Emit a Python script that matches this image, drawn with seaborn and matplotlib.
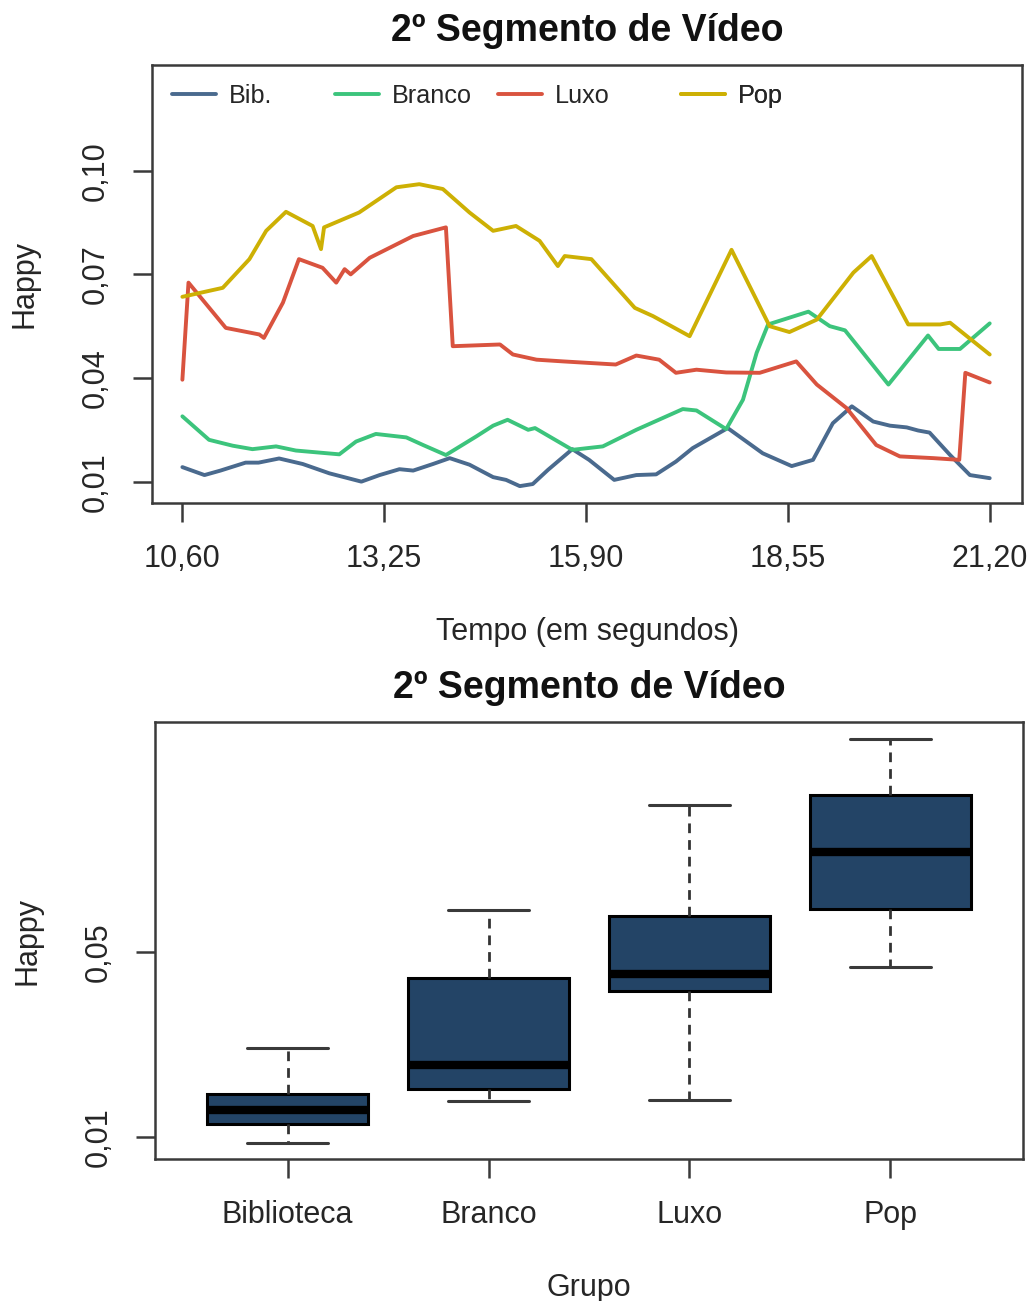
import numpy as np
import pandas as pd
import matplotlib
matplotlib.use("Agg")
import matplotlib.pyplot as plt
import seaborn as sns

# ---- time series: Happy score per group along the 2nd video segment ----
t_bib = [10.60, 10.89, 11.10, 11.43, 11.60, 11.87, 12.18, 12.53, 12.95, 13.19, 13.45,
         13.63, 13.89, 14.11, 14.37, 14.68, 14.85, 15.03, 15.20, 15.40, 15.72, 15.94,
         16.27, 16.56, 16.82, 17.08, 17.30, 17.76, 18.22, 18.60, 18.88, 19.14, 19.39,
         19.67, 19.89, 20.11, 20.26, 20.41, 20.68, 20.94, 21.20]
v_bib = [0.0142, 0.0119, 0.0132, 0.0155, 0.0155, 0.0167, 0.0151, 0.0124, 0.0100, 0.0119, 0.0136,
         0.0132, 0.0151, 0.0168, 0.0149, 0.0113, 0.0105, 0.0087, 0.0093, 0.0134, 0.0194, 0.0163,
         0.0105, 0.0119, 0.0121, 0.0158, 0.0197, 0.0255, 0.0182, 0.0145, 0.0163, 0.0269, 0.0318,
         0.0274, 0.0262, 0.0257, 0.0248, 0.0242, 0.0177, 0.0119, 0.0110]

t_branco = [10.60, 10.95, 11.26, 11.52, 11.83, 12.09, 12.66, 12.88, 13.14, 13.54, 13.76,
            14.06, 14.46, 14.68, 14.87, 15.14, 15.23, 15.72, 16.12, 16.56, 17.17, 17.35,
            17.74, 17.96, 18.14, 18.29, 18.82, 19.10, 19.30, 19.87, 20.24, 20.39, 20.53,
            20.81, 21.20]
v_branco = [0.0289, 0.0221, 0.0204, 0.0194, 0.0202, 0.0190, 0.0179, 0.0216, 0.0238, 0.0228, 0.0206,
            0.0177, 0.0231, 0.0262, 0.0279, 0.0250, 0.0255, 0.0192, 0.0202, 0.0250, 0.0310, 0.0306,
            0.0252, 0.0337, 0.0473, 0.0555, 0.0592, 0.0550, 0.0538, 0.0381, 0.0482, 0.0523, 0.0484,
            0.0484, 0.0558]

t_luxo = [10.60, 10.68, 11.17, 11.61, 11.67, 11.92, 12.13, 12.44, 12.62, 12.73, 12.81,
          13.06, 13.63, 14.06, 14.15, 14.77, 14.94, 15.25, 15.60, 16.29, 16.56, 16.86,
          17.08, 17.35, 17.74, 18.18, 18.66, 18.93, 19.32, 19.71, 20.02, 20.46, 20.80,
          20.88, 21.20]
v_luxo = [0.0395, 0.0676, 0.0545, 0.0526, 0.0516, 0.0618, 0.0744, 0.0719, 0.0676, 0.0715, 0.0700,
          0.0748, 0.0811, 0.0836, 0.0492, 0.0497, 0.0468, 0.0453, 0.0448, 0.0439, 0.0465, 0.0453,
          0.0415, 0.0424, 0.0416, 0.0415, 0.0448, 0.0381, 0.0313, 0.0206, 0.0173, 0.0168, 0.0163,
          0.0415, 0.0387]

t_pop = [10.60, 11.13, 11.48, 11.70, 11.96, 12.31, 12.42, 12.46, 12.92, 13.41, 13.71,
         14.02, 14.37, 14.68, 14.98, 15.29, 15.53, 15.62, 15.97, 16.54, 16.78, 17.26,
         17.81, 18.31, 18.57, 18.93, 19.41, 19.65, 20.13, 20.55, 20.68, 21.20]
v_pop = [0.0635, 0.0661, 0.0744, 0.0826, 0.0881, 0.0840, 0.0773, 0.0836, 0.0879, 0.0952, 0.0961,
         0.0947, 0.0879, 0.0826, 0.0840, 0.0797, 0.0724, 0.0753, 0.0744, 0.0603, 0.0579, 0.0521,
         0.0771, 0.0550, 0.0533, 0.0569, 0.0705, 0.0753, 0.0555, 0.0555, 0.0560, 0.0468]

series_names = ["Bib.", "Branco", "Luxo", "Pop"]
series_colors = ["#4A6A8E", "#3CC47C", "#D9533F", "#CDB004"]

# ---- box summaries per group (min, Q1, median, Q3, max) ----
box_groups = ["Biblioteca", "Branco", "Luxo", "Pop"]
box_biblioteca = [0.0087, 0.0127, 0.0158, 0.0192, 0.0292]
box_branco = [0.0177, 0.0203, 0.0255, 0.0443, 0.0590]
box_luxo = [0.0179, 0.0415, 0.0452, 0.0577, 0.0817]
box_pop = [0.0466, 0.0592, 0.0716, 0.0840, 0.0960]

x_ticks = [10.60, 13.25, 15.90, 18.55, 21.20]
y_ticks_top = [0.01, 0.04, 0.07, 0.10]
y_ticks_bottom = [0.01, 0.05]

title_text = "2º Segmento de Vídeo"

sns.set_theme(style="white")
plt.rcParams["font.family"] = ["Liberation Sans", "DejaVu Sans"]

def comma(v, nd=2):
    return f"{v:.{nd}f}".replace(".", ",")

fig = plt.figure(figsize=(10.31, 13.01), dpi=100)
ax1 = fig.add_axes([152 / 1031, 1 - 502.7 / 1301, 870 / 1031, 437.7 / 1301])
ax2 = fig.add_axes([155 / 1031, 1 - 1159.3 / 1301, 868 / 1031, 437.3 / 1301])

text_col = "#262626"
frame_col = "#3a3a3a"
FS = 22

def style_axes(ax):
    for s in ax.spines.values():
        s.set_visible(True)
        s.set_color(frame_col)
        s.set_linewidth(1.8)
    ax.tick_params(axis="both", direction="out", length=13.5, width=1.8,
                   color=frame_col, labelsize=FS, labelcolor=text_col,
                   pad=16, left=True, bottom=True)
    ax.grid(False)

# ---- top: line chart ----
frames = []
for name, t, v in zip(series_names, [t_bib, t_branco, t_luxo, t_pop],
                      [v_bib, v_branco, v_luxo, v_pop]):
    frames.append(pd.DataFrame({"Tempo": t, "Happy": v, "Grupo": name}))
df_lines = pd.concat(frames, ignore_index=True)

sns.lineplot(data=df_lines, x="Tempo", y="Happy", hue="Grupo",
             hue_order=series_names, palette=series_colors, estimator=None,
             sort=True, linewidth=2.8, legend=False, ax=ax1)
ax1.set_xlim(10.201, 21.624)
ax1.set_ylim(0.0039, 0.1306)
style_axes(ax1)
ax1.set_xticks(x_ticks)
ax1.set_xticklabels([comma(v) for v in x_ticks])
ax1.set_yticks(y_ticks_top)
ax1.set_yticklabels([comma(v) for v in y_ticks_top], rotation=90, va="center")
ax1.set_xlabel("Tempo (em segundos)", fontsize=FS, color=text_col, labelpad=31)
ax1.set_ylabel("Happy", fontsize=FS, color=text_col, labelpad=30)
ax1.set_title(title_text, fontsize=27, fontweight="bold", color="#111111", pad=17)

# one legend entry per series, placed along the top edge
legend_x = [0.023, 0.210, 0.398, 0.608]
for line, name, lx in zip(ax1.get_lines(), series_names, legend_x):
    leg = ax1.legend([line], [name], loc="center left", bbox_to_anchor=(lx, 0.929),
                     frameon=False, fontsize=18.2, handlelength=1.75,
                     handletextpad=0.5, borderpad=0, borderaxespad=0)
    for txt in leg.get_texts():
        txt.set_color(text_col)
    ax1.add_artist(leg)

# ---- bottom: box plot ----
df_box = pd.DataFrame({
    "Grupo": np.repeat(box_groups, 5),
    "Happy": box_biblioteca + box_branco + box_luxo + box_pop,
})
sns.boxplot(data=df_box, x="Grupo", y="Happy", order=box_groups, whis=(0, 100),
            width=0.8, color="#234466", linecolor="black", linewidth=2.2,
            saturation=1, ax=ax2,
            boxprops=dict(edgecolor="black", linewidth=2.2),
            medianprops=dict(color="black", linewidth=6),
            whiskerprops=dict(color="#333333", linestyle=(0, (3.5, 2.5)), linewidth=2.0),
            capprops=dict(color="#3a3a3a", linewidth=2.2))
ax2.set_xlim(-0.66, 3.66)
ax2.set_ylim(0.0051, 0.0997)
style_axes(ax2)
ax2.set_yticks(y_ticks_bottom)
ax2.set_yticklabels([comma(v) for v in y_ticks_bottom], rotation=90, va="center")
ax2.set_xlabel("Grupo", fontsize=FS, color=text_col, labelpad=31)
ax2.set_ylabel("Happy", fontsize=FS, color=text_col, labelpad=30)
ax2.set_title(title_text, fontsize=27, fontweight="bold", color="#111111", pad=17)

fig.savefig("out.png", dpi=100, facecolor="white")
